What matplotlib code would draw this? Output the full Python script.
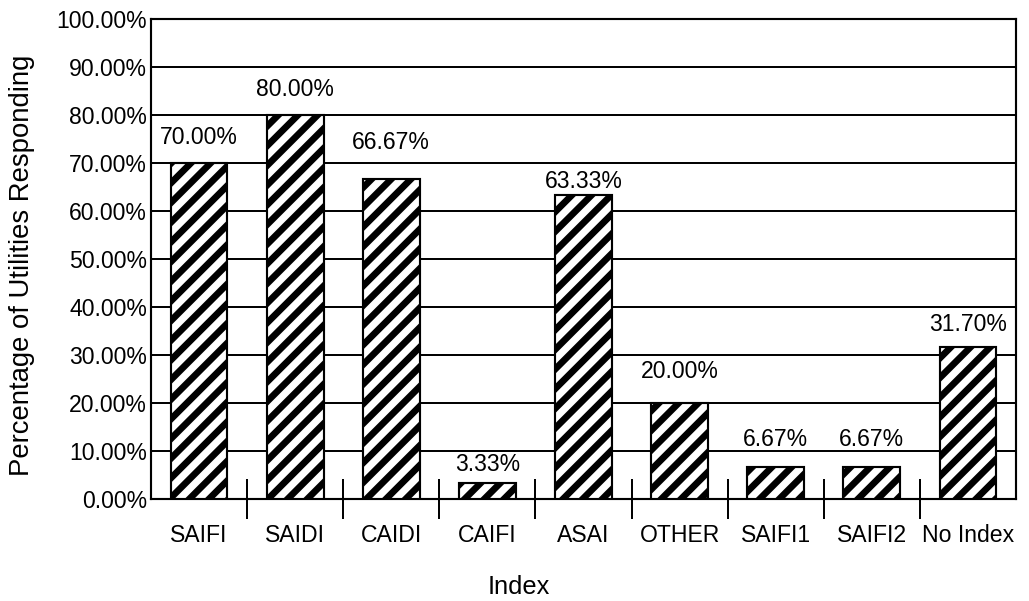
import matplotlib
matplotlib.use("Agg")
import matplotlib.pyplot as plt
import numpy as np

# Survey results: share of utilities reporting each reliability index
categories = ["SAIFI", "SAIDI", "CAIDI", "CAIFI", "ASAI", "OTHER",
              "SAIFI1", "SAIFI2", "No Index"]
percent_responding = [70.00, 80.00, 66.67, 3.33, 63.33, 20.00, 6.67, 6.67, 31.70]
y_ticks = [0, 10, 20, 30, 40, 50, 60, 70, 80, 90, 100]

# vertical gap (points) between each bar top and the centre of its value label
label_lift = [15.3, 15.3, 22.0, 11.0, 8.5, 19.5, 17.0, 17.0, 13.4]

DPI = 118
plt.rcParams["font.family"] = ["Liberation Sans", "DejaVu Sans"]
plt.rcParams["hatch.linewidth"] = 4.1
plt.rcParams["hatch.color"] = "black"

fig = plt.figure(figsize=(1029 / DPI, 601 / DPI), dpi=DPI)
ax = fig.add_axes([151 / 1029, 1 - 499 / 601, 865 / 1029, 480 / 601])

x = np.arange(len(categories))
bars = ax.bar(x, percent_responding, width=0.59, color="white",
              edgecolor="black", linewidth=1.3, hatch="//", zorder=3)

for xi, val, lift in zip(x, percent_responding, label_lift):
    ax.annotate(f"{val:.2f}%", xy=(xi, val), xytext=(0, lift),
                textcoords="offset points", ha="center", va="center",
                fontsize=14, color="black", zorder=4)

ax.set_xlim(-0.5, len(categories) - 0.5)
ax.set_ylim(0, 100)
ax.set_yticks(y_ticks)
ax.set_yticklabels([f"{t:.2f}%" for t in y_ticks])
ax.set_xticks(x)
ax.set_xticklabels(categories)
ax.set_xticks(np.arange(0.5, len(categories) - 1, 1.0), minor=True)

ax.grid(axis="y", color="black", linewidth=1.2, zorder=0)
ax.set_axisbelow(True)

ax.tick_params(axis="y", length=0, pad=2.4, labelsize=14)
ax.tick_params(axis="x", which="major", length=0, pad=15.5, labelsize=14)
ax.tick_params(axis="x", which="minor", direction="inout", length=23.8,
               width=1.2, color="black")

for side in ("left", "right", "top", "bottom"):
    ax.spines[side].set_linewidth(1.3)
    ax.spines[side].set_color("black")

ax.set_xlabel("Index", fontsize=15.5)
ax.xaxis.label.set_va("center")
ax.xaxis.set_label_coords(0.4254, -0.1823)

ax.set_ylabel("Percentage of Utilities Responding", fontsize=16.8)
ax.yaxis.label.set_va("center")
ax.yaxis.label.set_ha("center")
ax.yaxis.set_label_coords(-0.149, 0.4865)

fig.savefig("out.png", dpi=DPI, facecolor="white")
